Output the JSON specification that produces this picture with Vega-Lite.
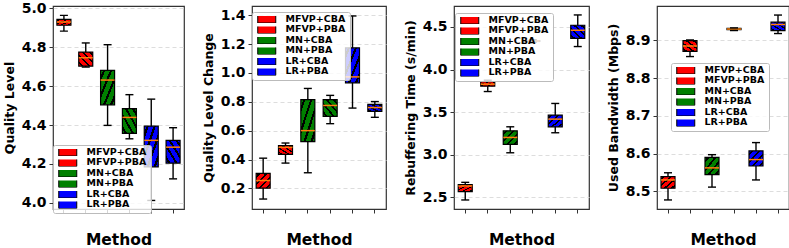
{
  "$schema": "https://vega.github.io/schema/vega-lite/v6.json",
  "padding": {"left": 2, "top": 0, "right": 2, "bottom": 0},
  "spacing": 16,
  "datasets": {
    "d": [
      {"p": 1, "m": "MFVP+CBA", "lo": 4.883, "q1": 4.913, "med": 4.930, "q3": 4.943, "hi": 4.964},
      {"p": 1, "m": "MFVP+PBA", "lo": 4.698, "q1": 4.703, "med": 4.746, "q3": 4.775, "hi": 4.822},
      {"p": 1, "m": "MN+CBA", "lo": 4.398, "q1": 4.504, "med": 4.631, "q3": 4.681, "hi": 4.813},
      {"p": 1, "m": "MN+PBA", "lo": 4.329, "q1": 4.357, "med": 4.439, "q3": 4.484, "hi": 4.556},
      {"p": 1, "m": "LR+CBA", "lo": 4.012, "q1": 4.185, "med": 4.321, "q3": 4.394, "hi": 4.533},
      {"p": 1, "m": "LR+PBA", "lo": 4.123, "q1": 4.204, "med": 4.286, "q3": 4.321, "hi": 4.386},
      {"p": 2, "m": "MFVP+CBA", "lo": 0.127, "q1": 0.202, "med": 0.255, "q3": 0.305, "hi": 0.410},
      {"p": 2, "m": "MFVP+PBA", "lo": 0.376, "q1": 0.437, "med": 0.485, "q3": 0.497, "hi": 0.515},
      {"p": 2, "m": "MN+CBA", "lo": 0.309, "q1": 0.524, "med": 0.601, "q3": 0.816, "hi": 0.893},
      {"p": 2, "m": "MN+PBA", "lo": 0.649, "q1": 0.700, "med": 0.775, "q3": 0.816, "hi": 0.845},
      {"p": 2, "m": "LR+CBA", "lo": 0.757, "q1": 0.932, "med": 0.973, "q3": 1.174, "hi": 1.395},
      {"p": 2, "m": "LR+PBA", "lo": 0.693, "q1": 0.734, "med": 0.761, "q3": 0.782, "hi": 0.802},
      {"p": 3, "m": "MFVP+CBA", "lo": 2.469, "q1": 2.566, "med": 2.633, "q3": 2.648, "hi": 2.676},
      {"p": 3, "m": "MFVP+PBA", "lo": 3.742, "q1": 3.805, "med": 3.828, "q3": 3.859, "hi": 3.875},
      {"p": 3, "m": "MN+CBA", "lo": 3.023, "q1": 3.121, "med": 3.203, "q3": 3.281, "hi": 3.328},
      {"p": 3, "m": "MN+PBA", "lo": 4.320, "q1": 4.330, "med": 4.335, "q3": 4.340, "hi": 4.350},
      {"p": 3, "m": "LR+CBA", "lo": 3.258, "q1": 3.328, "med": 3.418, "q3": 3.465, "hi": 3.602},
      {"p": 3, "m": "LR+PBA", "lo": 4.270, "q1": 4.367, "med": 4.461, "q3": 4.520, "hi": 4.641},
      {"p": 4, "m": "MFVP+CBA", "lo": 8.477, "q1": 8.508, "med": 8.530, "q3": 8.539, "hi": 8.549},
      {"p": 4, "m": "MFVP+PBA", "lo": 8.857, "q1": 8.871, "med": 8.885, "q3": 8.899, "hi": 8.901},
      {"p": 4, "m": "MN+CBA", "lo": 8.511, "q1": 8.544, "med": 8.562, "q3": 8.590, "hi": 8.597},
      {"p": 4, "m": "MN+PBA", "lo": 8.926, "q1": 8.928, "med": 8.930, "q3": 8.932, "hi": 8.933},
      {"p": 4, "m": "LR+CBA", "lo": 8.530, "q1": 8.567, "med": 8.584, "q3": 8.607, "hi": 8.629},
      {"p": 4, "m": "LR+PBA", "lo": 8.918, "q1": 8.926, "med": 8.942, "q3": 8.948, "hi": 8.967}
    ]
  },
  "hconcat": [
    {
      "width": 131, "height": 203,
      "data": {"name": "d"},
      "transform": [{"filter": "datum.p == 1"}],
      "encoding": {"x": {"field": "m", "type": "nominal", "sort": ["MFVP+CBA","MFVP+PBA","MN+CBA","MN+PBA","LR+CBA","LR+PBA"], "scale": {"paddingInner": 0, "paddingOuter": 0}, "axis": {"title": "Method"}}},
      "layer": [
        {"mark": {"type": "rule", "color": "black", "strokeWidth": 1.4}, "encoding": {"y": {"field": "lo", "type": "quantitative", "scale": {"domain": [3.968, 5.012], "nice": false, "zero": false}, "axis": {"title": "Quality Level", "values": [4.0, 4.2, 4.4, 4.6, 4.8, 5.0], "tickCount": 12, "format": ".1f", "labelOverlap": false}}, "y2": {"field": "hi"}}},
        {"mark": {"type": "bar", "size": 14, "opacity": 1}, "encoding": {"y": {"field": "q1", "type": "quantitative"}, "y2": {"field": "q3"}, "fill": {"field": "m", "type": "nominal", "sort": ["MFVP+CBA","MFVP+PBA","MN+CBA","MN+PBA","LR+CBA","LR+PBA"], "scale": {"range": ["#ff0000","#ff0000","#008000","#008000","#0000ff","#0000ff"]}, "legend": {"orient": "none", "legendX": 0, "legendY": 139}}}},
        {"mark": {"type": "bar", "size": 14, "stroke": "black", "strokeWidth": 1.2, "opacity": 1}, "encoding": {"y": {"field": "q1", "type": "quantitative"}, "y2": {"field": "q3"}, "fill": {"condition": {"test": "indexof(datum.m, 'CBA') >= 0", "value": {"gradient": "linear", "x1": 0, "y1": 0, "x2": 1, "y2": 1, "stops": [{"offset":0,"color":"rgba(0,0,0,0)"},{"offset":0.085,"color":"rgba(0,0,0,0)"},{"offset":0.085,"color":"black"},{"offset":0.165,"color":"black"},{"offset":0.165,"color":"rgba(0,0,0,0)"},{"offset":0.335,"color":"rgba(0,0,0,0)"},{"offset":0.335,"color":"black"},{"offset":0.415,"color":"black"},{"offset":0.415,"color":"rgba(0,0,0,0)"},{"offset":0.585,"color":"rgba(0,0,0,0)"},{"offset":0.585,"color":"black"},{"offset":0.665,"color":"black"},{"offset":0.665,"color":"rgba(0,0,0,0)"},{"offset":0.835,"color":"rgba(0,0,0,0)"},{"offset":0.835,"color":"black"},{"offset":0.915,"color":"black"},{"offset":0.915,"color":"rgba(0,0,0,0)"},{"offset":1,"color":"rgba(0,0,0,0)"}]}}, "value": {"gradient": "linear", "x1": 1, "y1": 0, "x2": 0, "y2": 1, "stops": [{"offset":0,"color":"rgba(0,0,0,0)"},{"offset":0.085,"color":"rgba(0,0,0,0)"},{"offset":0.085,"color":"black"},{"offset":0.165,"color":"black"},{"offset":0.165,"color":"rgba(0,0,0,0)"},{"offset":0.335,"color":"rgba(0,0,0,0)"},{"offset":0.335,"color":"black"},{"offset":0.415,"color":"black"},{"offset":0.415,"color":"rgba(0,0,0,0)"},{"offset":0.585,"color":"rgba(0,0,0,0)"},{"offset":0.585,"color":"black"},{"offset":0.665,"color":"black"},{"offset":0.665,"color":"rgba(0,0,0,0)"},{"offset":0.835,"color":"rgba(0,0,0,0)"},{"offset":0.835,"color":"black"},{"offset":0.915,"color":"black"},{"offset":0.915,"color":"rgba(0,0,0,0)"},{"offset":1,"color":"rgba(0,0,0,0)"}]}}}},
        {"mark": {"type": "tick", "color": "#ff7f0e", "size": 14, "thickness": 1.5, "opacity": 1}, "encoding": {"y": {"field": "med", "type": "quantitative"}}},
        {"mark": {"type": "tick", "color": "black", "size": 8, "thickness": 1.4, "opacity": 1}, "encoding": {"y": {"field": "lo", "type": "quantitative"}}},
        {"mark": {"type": "tick", "color": "black", "size": 8, "thickness": 1.4, "opacity": 1}, "encoding": {"y": {"field": "hi", "type": "quantitative"}}}
      ]
    },
    {
      "width": 134, "height": 203,
      "data": {"name": "d"},
      "transform": [{"filter": "datum.p == 2"}],
      "encoding": {"x": {"field": "m", "type": "nominal", "sort": ["MFVP+CBA","MFVP+PBA","MN+CBA","MN+PBA","LR+CBA","LR+PBA"], "scale": {"paddingInner": 0, "paddingOuter": 0}, "axis": {"title": "Method"}}},
      "layer": [
        {"mark": {"type": "rule", "color": "black", "strokeWidth": 1.4}, "encoding": {"y": {"field": "lo", "type": "quantitative", "scale": {"domain": [0.058, 1.464], "nice": false, "zero": false}, "axis": {"title": "Quality Level Change", "values": [0.2, 0.4, 0.6, 0.8, 1.0, 1.2, 1.4], "tickCount": 12, "format": ".1f", "labelOverlap": false}}, "y2": {"field": "hi"}}},
        {"mark": {"type": "bar", "size": 14, "opacity": 1}, "encoding": {"y": {"field": "q1", "type": "quantitative"}, "y2": {"field": "q3"}, "fill": {"field": "m", "type": "nominal", "sort": ["MFVP+CBA","MFVP+PBA","MN+CBA","MN+PBA","LR+CBA","LR+PBA"], "scale": {"range": ["#ff0000","#ff0000","#008000","#008000","#0000ff","#0000ff"]}, "legend": {"orient": "none", "legendX": 0, "legendY": 6}}}},
        {"mark": {"type": "bar", "size": 14, "stroke": "black", "strokeWidth": 1.2, "opacity": 1}, "encoding": {"y": {"field": "q1", "type": "quantitative"}, "y2": {"field": "q3"}, "fill": {"condition": {"test": "indexof(datum.m, 'CBA') >= 0", "value": {"gradient": "linear", "x1": 0, "y1": 0, "x2": 1, "y2": 1, "stops": [{"offset":0,"color":"rgba(0,0,0,0)"},{"offset":0.085,"color":"rgba(0,0,0,0)"},{"offset":0.085,"color":"black"},{"offset":0.165,"color":"black"},{"offset":0.165,"color":"rgba(0,0,0,0)"},{"offset":0.335,"color":"rgba(0,0,0,0)"},{"offset":0.335,"color":"black"},{"offset":0.415,"color":"black"},{"offset":0.415,"color":"rgba(0,0,0,0)"},{"offset":0.585,"color":"rgba(0,0,0,0)"},{"offset":0.585,"color":"black"},{"offset":0.665,"color":"black"},{"offset":0.665,"color":"rgba(0,0,0,0)"},{"offset":0.835,"color":"rgba(0,0,0,0)"},{"offset":0.835,"color":"black"},{"offset":0.915,"color":"black"},{"offset":0.915,"color":"rgba(0,0,0,0)"},{"offset":1,"color":"rgba(0,0,0,0)"}]}}, "value": {"gradient": "linear", "x1": 1, "y1": 0, "x2": 0, "y2": 1, "stops": [{"offset":0,"color":"rgba(0,0,0,0)"},{"offset":0.085,"color":"rgba(0,0,0,0)"},{"offset":0.085,"color":"black"},{"offset":0.165,"color":"black"},{"offset":0.165,"color":"rgba(0,0,0,0)"},{"offset":0.335,"color":"rgba(0,0,0,0)"},{"offset":0.335,"color":"black"},{"offset":0.415,"color":"black"},{"offset":0.415,"color":"rgba(0,0,0,0)"},{"offset":0.585,"color":"rgba(0,0,0,0)"},{"offset":0.585,"color":"black"},{"offset":0.665,"color":"black"},{"offset":0.665,"color":"rgba(0,0,0,0)"},{"offset":0.835,"color":"rgba(0,0,0,0)"},{"offset":0.835,"color":"black"},{"offset":0.915,"color":"black"},{"offset":0.915,"color":"rgba(0,0,0,0)"},{"offset":1,"color":"rgba(0,0,0,0)"}]}}}},
        {"mark": {"type": "tick", "color": "#ff7f0e", "size": 14, "thickness": 1.5, "opacity": 1}, "encoding": {"y": {"field": "med", "type": "quantitative"}}},
        {"mark": {"type": "tick", "color": "black", "size": 8, "thickness": 1.4, "opacity": 1}, "encoding": {"y": {"field": "lo", "type": "quantitative"}}},
        {"mark": {"type": "tick", "color": "black", "size": 8, "thickness": 1.4, "opacity": 1}, "encoding": {"y": {"field": "hi", "type": "quantitative"}}}
      ]
    },
    {
      "width": 135, "height": 203,
      "data": {"name": "d"},
      "transform": [{"filter": "datum.p == 3"}],
      "encoding": {"x": {"field": "m", "type": "nominal", "sort": ["MFVP+CBA","MFVP+PBA","MN+CBA","MN+PBA","LR+CBA","LR+PBA"], "scale": {"paddingInner": 0, "paddingOuter": 0}, "axis": {"title": "Method"}}},
      "layer": [
        {"mark": {"type": "rule", "color": "black", "strokeWidth": 1.4}, "encoding": {"y": {"field": "lo", "type": "quantitative", "scale": {"domain": [2.363, 4.746], "nice": false, "zero": false}, "axis": {"title": "Rebuffering Time (s/min)", "values": [2.5, 3.0, 3.5, 4.0, 4.5], "tickCount": 12, "format": ".1f", "labelOverlap": false}}, "y2": {"field": "hi"}}},
        {"mark": {"type": "bar", "size": 14, "opacity": 1}, "encoding": {"y": {"field": "q1", "type": "quantitative"}, "y2": {"field": "q3"}, "fill": {"field": "m", "type": "nominal", "sort": ["MFVP+CBA","MFVP+PBA","MN+CBA","MN+PBA","LR+CBA","LR+PBA"], "scale": {"range": ["#ff0000","#ff0000","#008000","#008000","#0000ff","#0000ff"]}, "legend": {"orient": "none", "legendX": 1, "legendY": 7}}}},
        {"mark": {"type": "bar", "size": 14, "stroke": "black", "strokeWidth": 1.2, "opacity": 1}, "encoding": {"y": {"field": "q1", "type": "quantitative"}, "y2": {"field": "q3"}, "fill": {"condition": {"test": "indexof(datum.m, 'CBA') >= 0", "value": {"gradient": "linear", "x1": 0, "y1": 0, "x2": 1, "y2": 1, "stops": [{"offset":0,"color":"rgba(0,0,0,0)"},{"offset":0.085,"color":"rgba(0,0,0,0)"},{"offset":0.085,"color":"black"},{"offset":0.165,"color":"black"},{"offset":0.165,"color":"rgba(0,0,0,0)"},{"offset":0.335,"color":"rgba(0,0,0,0)"},{"offset":0.335,"color":"black"},{"offset":0.415,"color":"black"},{"offset":0.415,"color":"rgba(0,0,0,0)"},{"offset":0.585,"color":"rgba(0,0,0,0)"},{"offset":0.585,"color":"black"},{"offset":0.665,"color":"black"},{"offset":0.665,"color":"rgba(0,0,0,0)"},{"offset":0.835,"color":"rgba(0,0,0,0)"},{"offset":0.835,"color":"black"},{"offset":0.915,"color":"black"},{"offset":0.915,"color":"rgba(0,0,0,0)"},{"offset":1,"color":"rgba(0,0,0,0)"}]}}, "value": {"gradient": "linear", "x1": 1, "y1": 0, "x2": 0, "y2": 1, "stops": [{"offset":0,"color":"rgba(0,0,0,0)"},{"offset":0.085,"color":"rgba(0,0,0,0)"},{"offset":0.085,"color":"black"},{"offset":0.165,"color":"black"},{"offset":0.165,"color":"rgba(0,0,0,0)"},{"offset":0.335,"color":"rgba(0,0,0,0)"},{"offset":0.335,"color":"black"},{"offset":0.415,"color":"black"},{"offset":0.415,"color":"rgba(0,0,0,0)"},{"offset":0.585,"color":"rgba(0,0,0,0)"},{"offset":0.585,"color":"black"},{"offset":0.665,"color":"black"},{"offset":0.665,"color":"rgba(0,0,0,0)"},{"offset":0.835,"color":"rgba(0,0,0,0)"},{"offset":0.835,"color":"black"},{"offset":0.915,"color":"black"},{"offset":0.915,"color":"rgba(0,0,0,0)"},{"offset":1,"color":"rgba(0,0,0,0)"}]}}}},
        {"mark": {"type": "tick", "color": "#ff7f0e", "size": 14, "thickness": 1.5, "opacity": 1}, "encoding": {"y": {"field": "med", "type": "quantitative"}}},
        {"mark": {"type": "tick", "color": "black", "size": 8, "thickness": 1.4, "opacity": 1}, "encoding": {"y": {"field": "lo", "type": "quantitative"}}},
        {"mark": {"type": "tick", "color": "black", "size": 8, "thickness": 1.4, "opacity": 1}, "encoding": {"y": {"field": "hi", "type": "quantitative"}}}
      ]
    },
    {
      "width": 132, "height": 203,
      "data": {"name": "d"},
      "transform": [{"filter": "datum.p == 4"}],
      "encoding": {"x": {"field": "m", "type": "nominal", "sort": ["MFVP+CBA","MFVP+PBA","MN+CBA","MN+PBA","LR+CBA","LR+PBA"], "scale": {"paddingInner": 0, "paddingOuter": 0}, "axis": {"title": "Method"}}},
      "layer": [
        {"mark": {"type": "rule", "color": "black", "strokeWidth": 1.4}, "encoding": {"y": {"field": "lo", "type": "quantitative", "scale": {"domain": [8.453, 8.991], "nice": false, "zero": false}, "axis": {"title": "Used Bandwidth (Mbps)", "values": [8.5, 8.6, 8.7, 8.8, 8.9], "tickCount": 12, "format": ".1f", "labelOverlap": false}}, "y2": {"field": "hi"}}},
        {"mark": {"type": "bar", "size": 14, "opacity": 1}, "encoding": {"y": {"field": "q1", "type": "quantitative"}, "y2": {"field": "q3"}, "fill": {"field": "m", "type": "nominal", "sort": ["MFVP+CBA","MFVP+PBA","MN+CBA","MN+PBA","LR+CBA","LR+PBA"], "scale": {"range": ["#ff0000","#ff0000","#008000","#008000","#0000ff","#0000ff"]}, "legend": {"orient": "none", "legendX": 14, "legendY": 57}}}},
        {"mark": {"type": "bar", "size": 14, "stroke": "black", "strokeWidth": 1.2, "opacity": 1}, "encoding": {"y": {"field": "q1", "type": "quantitative"}, "y2": {"field": "q3"}, "fill": {"condition": {"test": "indexof(datum.m, 'CBA') >= 0", "value": {"gradient": "linear", "x1": 0, "y1": 0, "x2": 1, "y2": 1, "stops": [{"offset":0,"color":"rgba(0,0,0,0)"},{"offset":0.085,"color":"rgba(0,0,0,0)"},{"offset":0.085,"color":"black"},{"offset":0.165,"color":"black"},{"offset":0.165,"color":"rgba(0,0,0,0)"},{"offset":0.335,"color":"rgba(0,0,0,0)"},{"offset":0.335,"color":"black"},{"offset":0.415,"color":"black"},{"offset":0.415,"color":"rgba(0,0,0,0)"},{"offset":0.585,"color":"rgba(0,0,0,0)"},{"offset":0.585,"color":"black"},{"offset":0.665,"color":"black"},{"offset":0.665,"color":"rgba(0,0,0,0)"},{"offset":0.835,"color":"rgba(0,0,0,0)"},{"offset":0.835,"color":"black"},{"offset":0.915,"color":"black"},{"offset":0.915,"color":"rgba(0,0,0,0)"},{"offset":1,"color":"rgba(0,0,0,0)"}]}}, "value": {"gradient": "linear", "x1": 1, "y1": 0, "x2": 0, "y2": 1, "stops": [{"offset":0,"color":"rgba(0,0,0,0)"},{"offset":0.085,"color":"rgba(0,0,0,0)"},{"offset":0.085,"color":"black"},{"offset":0.165,"color":"black"},{"offset":0.165,"color":"rgba(0,0,0,0)"},{"offset":0.335,"color":"rgba(0,0,0,0)"},{"offset":0.335,"color":"black"},{"offset":0.415,"color":"black"},{"offset":0.415,"color":"rgba(0,0,0,0)"},{"offset":0.585,"color":"rgba(0,0,0,0)"},{"offset":0.585,"color":"black"},{"offset":0.665,"color":"black"},{"offset":0.665,"color":"rgba(0,0,0,0)"},{"offset":0.835,"color":"rgba(0,0,0,0)"},{"offset":0.835,"color":"black"},{"offset":0.915,"color":"black"},{"offset":0.915,"color":"rgba(0,0,0,0)"},{"offset":1,"color":"rgba(0,0,0,0)"}]}}}},
        {"mark": {"type": "tick", "color": "#ff7f0e", "size": 14, "thickness": 1.5, "opacity": 1}, "encoding": {"y": {"field": "med", "type": "quantitative"}}},
        {"mark": {"type": "tick", "color": "black", "size": 8, "thickness": 1.4, "opacity": 1}, "encoding": {"y": {"field": "lo", "type": "quantitative"}}},
        {"mark": {"type": "tick", "color": "black", "size": 8, "thickness": 1.4, "opacity": 1}, "encoding": {"y": {"field": "hi", "type": "quantitative"}}}
      ]
    }
  ],
  "resolve": {"scale": {"y": "independent", "fill": "independent", "x": "independent"}, "legend": {"fill": "independent"}, "axis": {"y": "independent"}},
  "config": {
    "font": "DejaVu Sans",
    "view": {"stroke": "#333", "strokeWidth": 1.2},
    "axis": {"labelFont": "DejaVu Sans", "labelFontWeight": "bold", "labelFontSize": 14, "labelColor": "black", "titleFont": "DejaVu Sans", "titleFontWeight": "bold", "titleColor": "black", "tickColor": "#333", "tickSize": 4, "domain": false, "labelOverlap": false},
    "axisY": {"grid": true, "gridDash": [4, 3], "gridColor": "#dddddd", "titleFontSize": 12.5, "labelPadding": 3, "titlePadding": 5},
    "axisX": {"grid": false, "labels": false, "titleFontSize": 15.5, "titlePadding": 19},
    "legend": {"title": null, "symbolType": "M-3,-1.5h6v3h-6z", "symbolSize": 36, "symbolStrokeColor": "black", "symbolStrokeWidth": 1, "labelFont": "DejaVu Sans", "labelFontSize": 9.5, "labelFontWeight": "bold", "labelColor": "black", "padding": 4, "rowPadding": 0.5, "clipHeight": 5, "strokeColor": "#bbbbbb", "fillColor": "rgba(255,255,255,0.8)", "cornerRadius": 2, "symbolOffset": 6, "labelOffset": 14}
  }
}
